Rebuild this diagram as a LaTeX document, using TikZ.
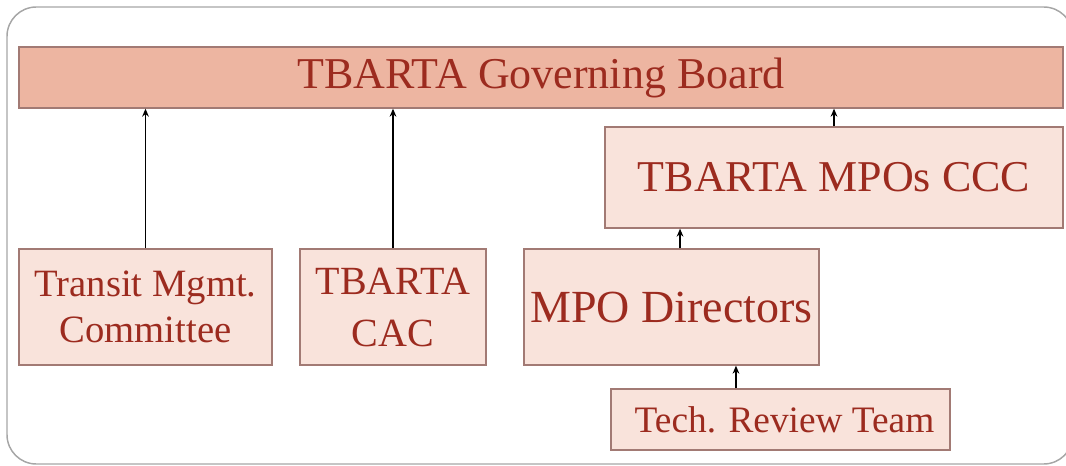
\documentclass[tikz,border=0pt]{standalone}
\usepackage{fontspec}
\setmainfont{Liberation Serif}
\usetikzlibrary{arrows.meta}
\definecolor{boardfill}{HTML}{EDB5A1}
\definecolor{boxfill}{HTML}{F9E3DB}
\definecolor{boxline}{HTML}{A27A74}
\definecolor{boxtext}{HTML}{9C2B1F}
\begin{document}
\begin{tikzpicture}[x=0.75pt, y=-0.75pt,
    unit/.style={draw=boxline, line width=1pt, fill=boxfill, text=boxtext, align=center, inner sep=0pt},
    arr/.style={line width=1.2pt, -{Stealth[length=6pt,width=5pt]}}]

    % Frame
    \useasboundingbox (0,0) rectangle (1066,466);
    \clip (0,0) rectangle (1066,466);
    \draw[gray!70, line width=1.1pt, rounded corners=22pt] (7,7) rectangle (1073,464);

    % Top level
    \node[unit, fill=boardfill, minimum width=783pt, minimum height=45.75pt,
          font=\fontsize{33}{38}\selectfont] (board) at (541,77.5) {TBARTA Governing Board};

    % Committees
    \node[unit, minimum width=343.5pt, minimum height=75.75pt,
          font=\fontsize{33}{38}\selectfont] (ccc) at (834,177.5) {TBARTA MPOs CCC};
    \node[unit, minimum width=189.75pt, minimum height=87pt,
          font=\fontsize{29}{34}\selectfont] (tmc) at (145.5,307) {Transit Mgmt.\\Committee};
    \node[unit, minimum width=139.5pt, minimum height=87pt,
          font=\fontsize{30}{39}\selectfont] (cac) at (393,307) {TBARTA\\CAC};
    \node[unit, minimum width=221.25pt, minimum height=87pt,
          font=\fontsize{34.5}{40}\selectfont] (dirs) at (671.5,307) {MPO Directors};
    \node[unit, minimum width=254.25pt, minimum height=45.75pt,
          font=\fontsize{28}{32}\selectfont] (trt) at (780.5,419.5) {\hspace{6pt}Tech. Review Team};

    % Reporting lines
    \draw[arr] (tmc.north) -- (tmc.north |- board.south);
    \draw[arr] (cac.north) -- (cac.north |- board.south);
    \draw[arr] (ccc.north) -- (ccc.north |- board.south);
    \draw[arr] ([xshift=6.4pt]dirs.north) -- ([xshift=6.4pt]dirs.north |- ccc.south);
    \draw[arr] ([xshift=-33.4pt]trt.north) -- ([xshift=-33.4pt]trt.north |- dirs.south);
\end{tikzpicture}
\end{document}
